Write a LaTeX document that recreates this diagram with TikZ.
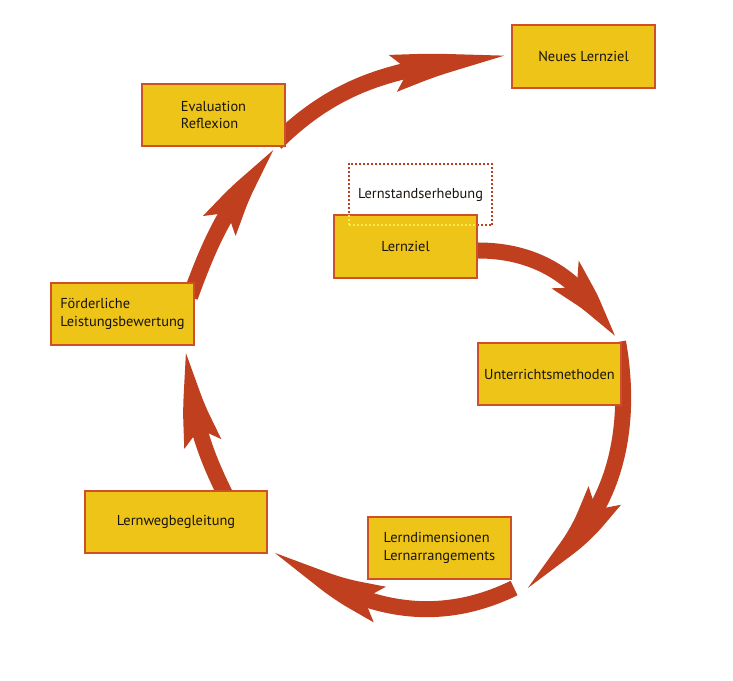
\documentclass[tikz,border=0pt]{standalone}
\usepackage{fontspec}
\setmainfont{PT Sans}
\usepackage{tikz}
\usetikzlibrary{arrows.meta}
\usetikzlibrary{bending}
\usetikzlibrary{backgrounds}

\definecolor{arrowred}{RGB}{191,63,31}
\definecolor{boxfill}{RGB}{238,196,24}
\definecolor{boxedge}{RGB}{206,80,40}
\definecolor{dotyellow}{RGB}{250,236,70}
\definecolor{textdark}{RGB}{25,20,15}

\begin{document}
\begin{tikzpicture}[x=1pt,y=1pt,
  box/.style={draw=boxedge, fill=boxfill, line width=1.6pt, minimum width=143.5pt, minimum height=62.5pt, inner sep=0pt, align=left, text=textdark, font=\fontsize{14.4}{17.5}\selectfont},
  dotbox/.style={draw=arrowred, line width=1.8pt, dash pattern=on 2pt off 2pt, minimum width=143.5pt, minimum height=61.5pt, inner sep=0pt, outer sep=0pt, text=textdark, font=\fontsize{14.4}{17.5}\selectfont},
  bigarrow/.style={arrowred, line width=16pt, -{Stealth[length=#1, width=35pt, inset=16pt, bend]}}]
  \useasboundingbox (0,0) rectangle (733,680);

  \node[box] (neu) at (583.5,623.5) {Neues Lernziel};
  \node[box] (eval) at (213.5,565) {Evaluation\\Reflexion};
  \node[dotbox] (lse) at (420.5,485.5) {Lernstandserhebung};
  \node[box] (lz) at (405.5,433.5) {Lernziel};
  \node[box] (um) at (549.5,306) {Unterrichtsmethoden};
  \node[box] (fl) at (122.5,366) {Förderliche\\Leistungsbewertung};
  \node[box, minimum width=182.5pt] (lwb) at (176,158) {Lernwegbegleitung};
  \node[box] (ld) at (439.5,132) {Lerndimensionen\\Lernarrangements};

  \begin{scope}
    \clip ([shift={(1pt,1pt)}]lz.south west) rectangle ([shift={(-1pt,-1pt)}]lz.north east);
    \draw[dotyellow, line width=1.8pt, dash pattern=on 2pt off 2pt] (lse.south west) rectangle (lse.north east);
  \end{scope}

  \begin{scope}[on background layer]
    \draw[bigarrow=85pt] ([yshift=-4pt]lz.east) to[out=0,in=113] ([xshift=-9pt]um.north east);
    \draw[bigarrow=135pt] ([xshift=-4pt]um.north east) to[out=-80,in=28] ([shift={(5pt,-5pt)}]ld.south east);
    \draw[bigarrow=128pt] ([shift={(2pt,-8pt)}]ld.south east) to[out=206,in=-40] ([shift={(5pt,9pt)}]lwb.south east);
    \draw[bigarrow=110pt] ([shift={(52pt,-10pt)}]lwb.north) to[out=117,in=-88] ([xshift=-7pt]fl.south east);
    \draw[bigarrow=110pt] ([shift={(-5pt,-15pt)}]fl.north east) to[out=70,in=-135] ([xshift=-6pt]eval.south east);
    \draw[bigarrow=128pt] ([shift={(-10pt,4pt)}]eval.south east) to[out=45,in=185] (neu.west);
  \end{scope}
\end{tikzpicture}
\end{document}
